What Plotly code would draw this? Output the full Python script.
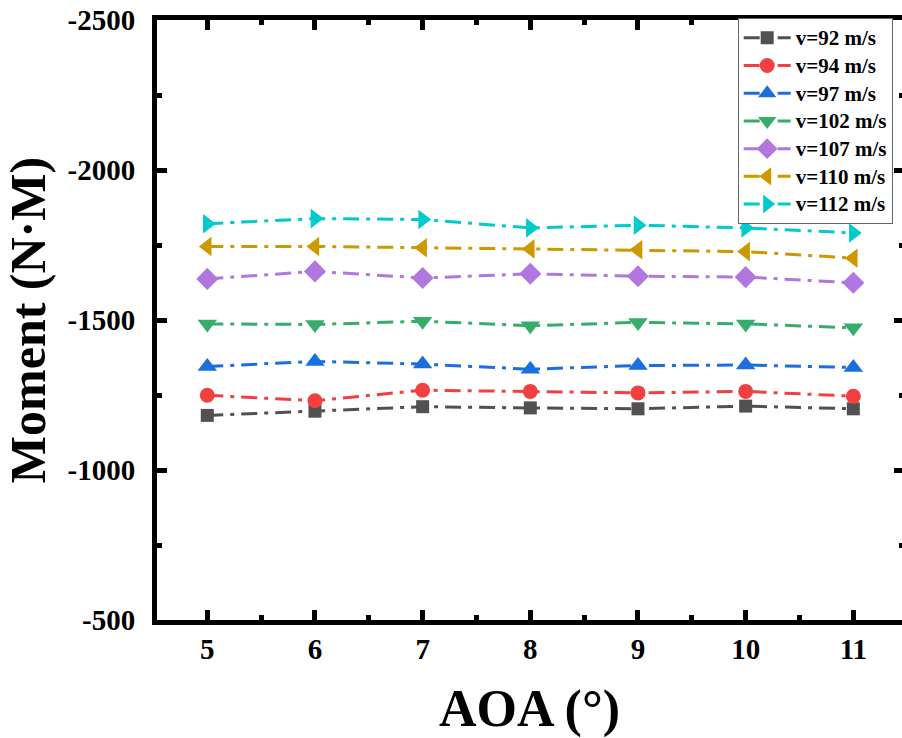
import plotly.graph_objects as go

aoa = [5, 6, 7, 8, 9, 10, 11]

series_names = ["v=92 m/s", "v=94 m/s", "v=97 m/s", "v=102 m/s", "v=107 m/s", "v=110 m/s", "v=112 m/s"]

m_92 = [-1182, -1196, -1211, -1207, -1204, -1213, -1204]
m_94 = [-1249, -1231, -1266, -1262, -1257, -1262, -1246]
m_97 = [-1345, -1362, -1353, -1336, -1348, -1350, -1342]
m_102 = [-1487, -1485, -1496, -1481, -1492, -1487, -1474]
m_107 = [-1637, -1662, -1640, -1654, -1646, -1643, -1624]
m_110 = [-1745, -1745, -1741, -1737, -1734, -1728, -1706]
m_112 = [-1821, -1838, -1835, -1807, -1816, -1807, -1790]

series_values = [m_92, m_94, m_97, m_102, m_107, m_110, m_112]

y_ticks = [-2500, -2000, -1500, -1000, -500]
y_tick_labels = ["-2500", "-2000", "-1500", "-1000", "-500"]
x_ticks = [5, 6, 7, 8, 9, 10, 11]
x_tick_labels = ["5", "6", "7", "8", "9", "10", "11"]

colors = ["#515151", "#F14040", "#1A6FDF", "#37AD6B", "#B177DE", "#CC9900", "#00CBCC"]
symbols = ["square", "circle", "triangle-up", "triangle-down", "diamond", "triangle-left", "triangle-right"]
sizes = [13, 15, 17, 17, 17, 17, 17]

FONT = "Liberation Serif"

fig = go.Figure()
for name, vals, c, s, sz in zip(series_names, series_values, colors, symbols, sizes):
    fig.add_trace(go.Scatter(
        x=aoa, y=vals, mode="lines+markers",
        name='<span style="font-size:21px">' + name + "</span>",
        line=dict(color=c, width=3, dash="16px,7px,4px,7px"),
        marker=dict(color=c, symbol=s, size=sz, line=dict(width=0)),
    ))

# helper trace for right-side tick marks
fig.add_trace(go.Scatter(x=[], y=[], yaxis="y2", showlegend=False, hoverinfo="skip"))

axis_common = dict(
    showgrid=False, zeroline=False, automargin=False,
    linecolor="black", linewidth=5,
    ticks="inside", tickcolor="black", tickwidth=4.5, ticklen=10,
    ticklabeloverflow="allow",
    tickfont=dict(family=FONT, size=29, color="black", weight="bold"),
)

fig.update_layout(
    width=902, height=738,
    margin=dict(l=157, r=0, t=20, b=118),
    paper_bgcolor="white", plot_bgcolor="white",
    font=dict(family=FONT, color="black"),
    xaxis=dict(
        **axis_common,
        range=[4.533, 11.452],
        tickvals=x_ticks, ticktext=x_tick_labels,
        ticklabelstandoff=-1,
        showline=True, mirror="ticks",
        minor=dict(dtick=1, tick0=5.5, ticks="inside", ticklen=5, tickwidth=4.5, tickcolor="black"),
        title=dict(text="AOA (°)", font=dict(family=FONT, size=52, color="black", weight="bold"), standoff=33),
    ),
    yaxis=dict(
        **axis_common,
        range=[-500, -2500],
        tickvals=y_ticks, ticktext=y_tick_labels,
        ticklabelstandoff=11,
        showline=True, mirror=False,
        minor=dict(dtick=250, tick0=-2250, ticks="inside", ticklen=5, tickwidth=4.5, tickcolor="black"),
        title=dict(text="Moment (N·M)", font=dict(family=FONT, size=50, color="black", weight="bold"), standoff=17),
    ),
    yaxis2=dict(
        overlaying="y", side="right", anchor="x", automargin=False,
        range=[-500, -2500], tickvals=y_ticks,
        showgrid=False, zeroline=False, showline=False, showticklabels=False,
        ticks="inside", tickcolor="black", tickwidth=4.5, ticklen=8,
        minor=dict(dtick=250, tick0=-2250, ticks="inside", ticklen=3, tickwidth=4.5, tickcolor="black"),
    ),
    legend=dict(
        x=0.9875, y=1.0033, xanchor="right", yanchor="top",
        bgcolor="white", bordercolor="#666666", borderwidth=1,
        font=dict(family=FONT, size=19, color="black", weight="bold"),
        tracegroupgap=0, itemwidth=47,
    ),
    showlegend=True,
)

fig.write_html(
    "out.html",
    config={"displayModeBar": False},
    post_script="document.body.style.margin='0';document.body.style.overflow='hidden';",
)
